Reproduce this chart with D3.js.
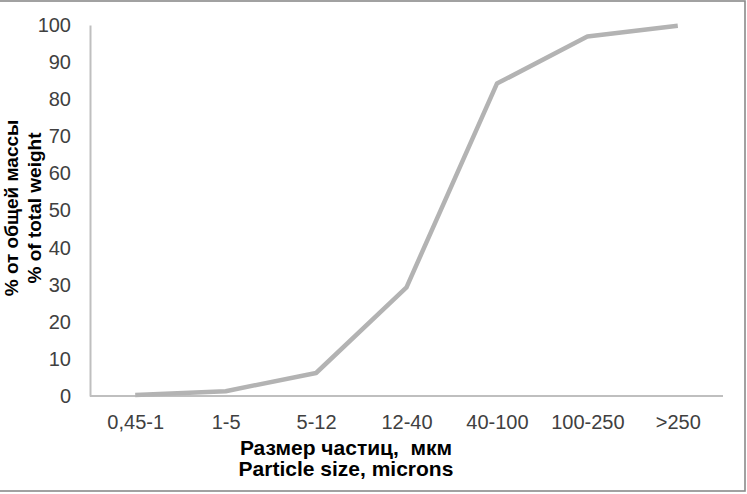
<!DOCTYPE html>
<html>
<head>
<meta charset="utf-8">
<script src="https://cdn.jsdelivr.net/npm/d3@7"></script>
<style>
    body { margin: 0; background: #fff; }
    svg text { font-family: "Liberation Sans", Arial, sans-serif; }
</style>
</head>
<body>
<div id="chart"></div>
<script>
var categories = ["0,45-1", "1-5", "5-12", "12-40", "40-100", "100-250", ">250"];
var values = [0.3, 1.3, 6.2, 29.3, 84.2, 96.9, 99.8];
var yTicks = [0, 10, 20, 30, 40, 50, 60, 70, 80, 90, 100];
var yTitle = ["% от общей массы", "% of total weight"];
var xTitle = ["Размер частиц,  мкм", "Particle size, microns"];

var width = 747, height = 494;
var plotLeft = 90, plotRight = 723, plotTop = 25, plotBottom = 396;

var svg = d3.select("#chart").append("svg")
    .attr("width", width)
    .attr("height", height);

// frame
svg.append("rect")
    .attr("x", -2).attr("y", 1)
    .attr("width", 747).attr("height", 490)
    .attr("fill", "none")
    .attr("stroke", "#8a8a8a")
    .attr("stroke-width", 1.6);

var x = d3.scalePoint()
    .domain(categories)
    .range([plotLeft, plotRight])
    .padding(0.5);

var y = d3.scaleLinear()
    .domain([0, 100])
    .range([plotBottom, plotTop]);

// y axis
var yAxis = svg.append("g")
    .attr("transform", "translate(" + plotLeft + ",0)")
    .call(d3.axisLeft(y).tickValues(yTicks).tickSize(0).tickPadding(19));
yAxis.select(".domain").attr("stroke", "#bfbfbf").attr("stroke-width", 2);
yAxis.selectAll("text")
    .attr("font-size", "20px")
    .attr("fill", "#404040")
    .style("font-family", "'Liberation Sans', Arial, sans-serif");

// x axis
var xAxis = svg.append("g")
    .attr("transform", "translate(0," + plotBottom + ")")
    .call(d3.axisBottom(x).tickSize(0).tickPadding(19));
xAxis.select(".domain")
    .attr("d", "M" + plotLeft + ",0H" + plotRight)
    .attr("stroke", "#bfbfbf").attr("stroke-width", 2);
xAxis.selectAll("text")
    .attr("font-size", "20px")
    .attr("fill", "#404040")
    .style("font-family", "'Liberation Sans', Arial, sans-serif");

// the curve
var line = d3.line()
    .x(function (d, i) { return x(categories[i]); })
    .y(function (d) { return y(d); });

svg.append("path")
    .datum(values)
    .attr("d", line)
    .attr("fill", "none")
    .attr("stroke", "#b3b3b3")
    .attr("stroke-width", 4.5)
    .attr("stroke-linejoin", "round");

// axis titles
svg.append("g")
    .selectAll("text")
    .data(xTitle).enter()
    .append("text")
    .attr("x", 346)
    .attr("y", function (d, i) { return 455 + i * 21; })
    .attr("text-anchor", "middle")
    .attr("font-size", "21px")
    .attr("font-weight", "bold")
    .attr("fill", "#000")
    .style("white-space", "pre")
    .text(function (d) { return d; });

svg.append("g")
    .selectAll("text")
    .data(yTitle).enter()
    .append("text")
    .attr("transform", function (d, i) {
        return "translate(" + (18 + i * 23) + ",208) rotate(-90)";
    })
    .attr("text-anchor", "middle")
    .attr("font-size", "19px")
    .attr("font-weight", "bold")
    .attr("fill", "#000")
    .text(function (d) { return d; });
</script>
</body>
</html>
